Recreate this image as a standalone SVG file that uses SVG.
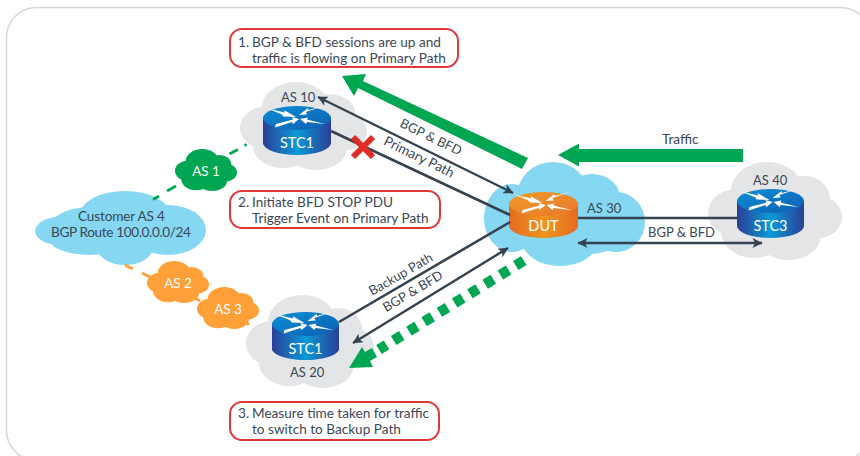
<svg xmlns="http://www.w3.org/2000/svg" width="860" height="456" viewBox="0 0 860 456">
<style>
text{font-family:"Lato","Noto Sans","Liberation Sans",sans-serif;font-size:13.600px;fill:#3b4856}
.a{font-size:13px}
.w{fill:#fff;font-size:14.500px;text-anchor:middle}
.s{fill:#fff;font-size:13.500px;text-anchor:middle}
.m{text-anchor:middle;font-size:13px}
.box{fill:#fff;stroke:#e0393a;stroke-width:2}
.ln{fill:none;stroke:#35424f;stroke-width:2.600}
.bf{fill:none;stroke:#35424f;stroke-width:2.400;marker-start:url(#ah);marker-end:url(#ah)}
.gd{fill:none;stroke:#00a651;stroke-width:3}
.od{fill:none;stroke:#ffa038;stroke-width:3}
.gray{fill:#e4e5e7}.blue{fill:#85d7f2}.green{fill:#00a651}.orange{fill:#ffa038}
</style>
<defs>
<marker id="ah" viewBox="0 0 10 10" refX="9.500" refY="5" markerWidth="11" markerHeight="10" markerUnits="userSpaceOnUse" orient="auto-start-reverse"><path d="M0 0L10 5L0 10L2.500 5Z" fill="#35424f"/></marker>
<linearGradient id="gb" x1="0" x2="1" y1="0" y2="0"><stop offset="0" stop-color="#2b3f97"/><stop offset=".5" stop-color="#0a9ad8"/><stop offset="1" stop-color="#2b3f97"/></linearGradient>
<linearGradient id="gt" x1="0" x2="1" y1="0" y2="1"><stop offset="0" stop-color="#0a8fd8"/><stop offset="1" stop-color="#0f5fb0"/></linearGradient>
<linearGradient id="go" x1="0" x2="1" y1="0" y2="0"><stop offset="0" stop-color="#e46b22"/><stop offset=".5" stop-color="#f09520"/><stop offset="1" stop-color="#e46b22"/></linearGradient>
<linearGradient id="gto" x1="0" x2="1" y1="0" y2="1"><stop offset="0" stop-color="#f09a28"/><stop offset="1" stop-color="#e8782a"/></linearGradient>
<g id="cloud">
<ellipse cx="20" cy="52" rx="20" ry="24"/>
<ellipse cx="44" cy="30" rx="27" ry="30"/>
<ellipse cx="72" cy="38" rx="19" ry="24"/>
<ellipse cx="81" cy="56" rx="19" ry="22"/>
<ellipse cx="60" cy="76" rx="24" ry="24"/>
<ellipse cx="34" cy="72" rx="24" ry="26"/>
<rect x="25" y="35" width="50" height="40"/>
</g>
<g id="arrows" fill="#fff">
<path d="M-29.500 -9.500L-12 -5.500L-13 -8L-1 -1L-14 -1.500L-15 -3.500Z"/>
<path d="M28 -12.500L9 -6L10 -3.500L2 -3L11 -10L11.500 -8Z"/>
<path d="M-22 9.500L-21 6L-4 1.500L-5 -1L2 1L-4 6L-5 4Z"/>
<path d="M28 6L10 1.500L11 -.5L3 1L9 6L10 4Z"/>
</g>
</defs>
<rect id="frame" x="6.500" y="7.500" width="864" height="453" rx="30" fill="#fff" stroke="#d6d7d8" stroke-width="1.500"/>

<g id="as10"><use href="#cloud" class="gray" transform="translate(240,82) scale(1.270,.880)"/><text class="a" x="281" y="101.500">AS 10</text></g>
<g id="as20"><use href="#cloud" class="gray" transform="translate(246,295) scale(1.280,.930)"/><text class="a" x="290" y="377">AS 20</text></g>
<g id="as40"><use href="#cloud" class="gray" transform="translate(708,162) scale(1.340,.980)"/><text class="a" x="753" y="185">AS 40</text></g>
<g id="dut-cloud" class="blue">
<ellipse cx="512" cy="218" rx="28" ry="34"/><ellipse cx="553" cy="196" rx="36" ry="34"/><ellipse cx="592" cy="198" rx="28" ry="24"/><ellipse cx="616" cy="222" rx="29" ry="30"/><ellipse cx="560" cy="240" rx="38" ry="26"/><ellipse cx="590" cy="228" rx="36" ry="26"/>
<text class="a" x="587" y="213">AS 30</text>
</g>
<g id="customer" class="blue">
<ellipse cx="60" cy="231" rx="25" ry="14"/><ellipse cx="90" cy="230" rx="42" ry="23"/><ellipse cx="125" cy="215" rx="45" ry="24"/><ellipse cx="168" cy="230" rx="38" ry="25"/><ellipse cx="125" cy="247" rx="28" ry="18"/><ellipse cx="90" cy="240" rx="40" ry="15"/>
<text x="78" y="221" textLength="87">Customer AS 4</text>
<text x="51" y="237" textLength="140">BGP Route 100.0.0.0/24</text>
</g>
<g id="as1"><use href="#cloud" class="green" transform="translate(175,149) scale(.620,.420)"/><text x="206" y="176" class="s">AS 1</text></g>
<g id="as2"><use href="#cloud" class="orange" transform="translate(147,261) scale(.620,.420)"/><text x="178" y="288" class="s">AS 2</text></g>
<g id="as3"><use href="#cloud" class="orange" transform="translate(197,287) scale(.620,.420)"/><text x="228" y="314" class="s">AS 3</text></g>

<g id="stc1a">
<path d="M263 117V143A34 12 0 0 0 331 143V117Z" fill="url(#gb)"/><ellipse cx="297" cy="118" rx="34" ry="12" fill="url(#gt)"/>
<use href="#arrows" transform="translate(297,118)"/><text x="297" y="147.500" class="w">STC1</text>
</g>
<g id="stc1b">
<path d="M272 324V350A34 12 0 0 0 339 350V324Z" fill="url(#gb)"/><ellipse cx="305.500" cy="324" rx="33.500" ry="12" fill="url(#gt)"/>
<use href="#arrows" transform="translate(305.500,324)"/><text x="305.500" y="353.500" class="w">STC1</text>
</g>
<g id="dut">
<path d="M509 204V226A34.500 12 0 0 0 578 226V204Z" fill="url(#go)"/><ellipse cx="543.500" cy="204" rx="34.500" ry="12" fill="url(#gto)"/>
<use href="#arrows" transform="translate(543.500,204)"/><text x="543.500" y="230.500" class="w">DUT</text>
</g>
<g id="stc3">
<path d="M737 201V226A33.500 12 0 0 0 804 226V201Z" fill="url(#gb)"/><ellipse cx="770.500" cy="201" rx="33.500" ry="12" fill="url(#gt)"/>
<use href="#arrows" transform="translate(770.500,201)"/><text x="770.500" y="230.500" class="w">STC3</text>
</g>

<g id="connectors">
<path class="gd" d="M153 199.500L159 196M167 191L176 186M229.500 154L238 149.500M244.500 145.500L246.500 144.500"/>
<path class="od" d="M125 265L133 269M142 273L150 277M195 298L200 301M247 323L249 325"/>
<path class="ln" d="M331 131L510 215"/>
<path class="bf" d="M318 97L513 193"/>
<path class="ln" d="M339 322L510 222"/>
<path class="bf" d="M353 343L508 248"/>
<path class="ln" d="M578 218H737"/>
<path class="bf" d="M578 243H762"/>
</g>

<g id="flows" fill="#00a651">
<path d="M342 76L366 74L363 81L528 158L522 169L358 88L354 96Z"/>
<path d="M558 155L579 143.500V149H743V162H579V166.500Z"/>
<path d="M349 368L362 347L365 352L372 348L377 357L370 361L373 367Z"/>
<path d="M523.800 260.600L379 349.500" fill="none" stroke="#00a651" stroke-width="10.500" stroke-dasharray="9.500 8.400"/>
</g>
<path id="x" d="M353 137L373 157M373 137L353 157" fill="none" stroke="#e12d27" stroke-width="6"/>

<g id="labels">
<text x="648" y="237" class="a">BGP &amp; BFD</text>
<text x="662" y="144">Traffic</text>
<text transform="translate(429,141) rotate(26)" class="m">BGP &amp; BFD</text>
<text transform="translate(417,161) rotate(26)" class="m" style="font-size:13.600px">Primary Path</text>
<text transform="translate(403,278) rotate(-30)" class="m">Backup Path</text>
<text transform="translate(415,295) rotate(-31)" class="m">BGP &amp; BFD</text>
</g>

<g id="note1"><rect class="box" x="230" y="29" width="228" height="38" rx="12"/><text x="238" y="47">1.</text><text x="252" y="47">BGP &amp; BFD sessions are up and</text><text x="252" y="62.500">traffic is flowing on Primary Path</text></g>
<g id="note2"><rect class="box" x="230" y="191" width="210" height="37" rx="12"/><text x="238" y="207">2.</text><text x="252" y="207">Initiate BFD STOP PDU</text><text x="252" y="222.500">Trigger Event on Primary Path</text></g>
<g id="note3"><rect class="box" x="230" y="402" width="209" height="38" rx="12"/><text x="238" y="418">3.</text><text x="252" y="418">Measure time taken for traffic</text><text x="252" y="434">to switch to Backup Path</text></g>
</svg>
